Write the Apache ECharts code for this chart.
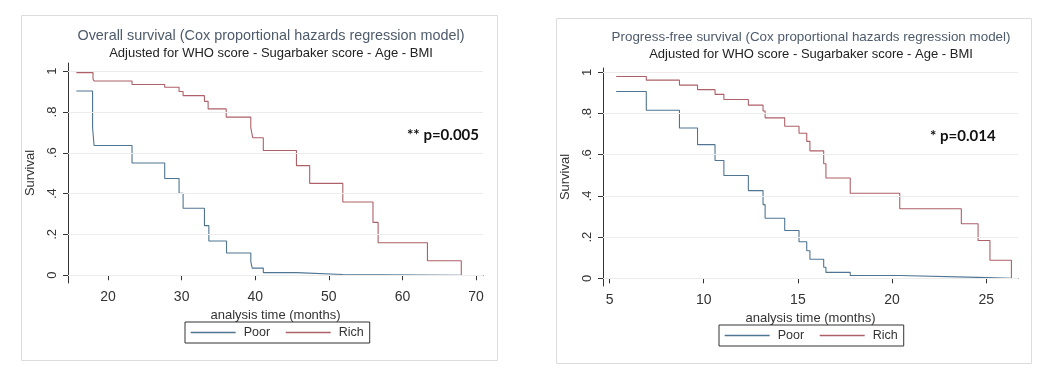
<!DOCTYPE html>
<html>
<head>
<meta charset="utf-8">
<script src="https://cdn.jsdelivr.net/npm/echarts@6/dist/echarts.min.js"></script>
<style>
html,body{margin:0;padding:0;background:#fff;}
#chart{width:1056px;height:378px;}
</style>
</head>
<body>
<div id="chart"></div>
<script>
// Overall survival (months)
const osPoorT = [15.7, 17.9, 18.1, 23.26, 27.7, 29.65, 30.2, 33.1, 33.7, 36.1, 39.4, 39.6, 41.1, 45.6, 51.9, 68.0];
const osPoorS = [0.903, 0.724, 0.636, 0.55, 0.474, 0.401, 0.328, 0.243, 0.168, 0.109, 0.065, 0.035, 0.013, 0.004, 0.0, 0.0];
const osRichT = [15.7, 17.96, 18.1, 23.26, 27.7, 29.65, 30.2, 33.1, 33.6, 36.06, 39.4, 39.66, 41.1, 45.6, 47.4, 51.9, 56.0, 56.7, 63.4, 68.0];
const osRichS = [0.993, 0.962, 0.952, 0.935, 0.921, 0.90, 0.88, 0.852, 0.815, 0.775, 0.722, 0.674, 0.611, 0.537, 0.45, 0.359, 0.259, 0.159, 0.071, 0.0];
// Progress-free survival (months)
const pfsPoorT = [5.35, 6.95, 8.71, 9.67, 10.6, 11.07, 12.37, 13.15, 13.26, 14.3, 15.06, 15.47, 15.64, 16.37, 16.49, 17.78, 20.41, 24.57, 26.34];
const pfsPoorS = [0.907, 0.816, 0.73, 0.649, 0.572, 0.499, 0.426, 0.358, 0.292, 0.232, 0.178, 0.134, 0.093, 0.054, 0.029, 0.014, 0.005, 0.0, 0.0];
const pfsRichT = [5.35, 6.95, 8.71, 9.67, 10.6, 11.07, 12.37, 13.15, 13.26, 14.3, 15.06, 15.47, 15.64, 16.37, 16.49, 17.78, 20.41, 23.68, 24.57, 25.2, 26.34];
const pfsRichS = [0.98, 0.962, 0.938, 0.916, 0.893, 0.868, 0.841, 0.812, 0.779, 0.738, 0.704, 0.665, 0.619, 0.556, 0.487, 0.413, 0.338, 0.265, 0.184, 0.088, 0.0];

const osXTicks = [20, 30, 40, 50, 60, 70];
const pfsXTicks = [5, 10, 15, 20, 25];
const yTicks = [0, 0.2, 0.4, 0.6, 0.8, 1];
const yTickLabels = ['0', '.2', '.4', '.6', '.8', '1'];
const groups = ['Poor', 'Rich'];

const FONT = 'Liberation Sans, Arial, sans-serif';
const AX = '#333';
const BLUE = '#4f7593';
const RED = '#ad6068';
const groupColors = [BLUE, RED];

const zip = (t, s) => t.map((v, i) => [v, s[i]]);
const yLabelFmt = v => {
  const i = yTicks.findIndex(t => Math.abs(t - v) < 1e-6);
  return i >= 0 ? yTickLabels[i] : '';
};

function xAxis(idx, min, max, ticks) {
  return {
    gridIndex: idx, type: 'value', min: min, max: max,
    name: 'analysis time (months)', nameLocation: 'middle', nameGap: 17,
    nameTextStyle: { fontSize: 13, color: AX, fontFamily: FONT },
    axisLine: { show: true, lineStyle: { color: AX, width: 1 } },
    axisTick: { show: true, length: 5, customValues: ticks, lineStyle: { color: AX } },
    axisLabel: { customValues: ticks, fontSize: 14, color: AX, margin: 7, fontFamily: FONT },
    splitLine: { show: false }
  };
}
function yAxis(idx, min, max) {
  return {
    gridIndex: idx, type: 'value', min: min, max: max,
    name: 'Survival', nameLocation: 'middle', nameGap: 31,
    nameTextStyle: { fontSize: 13, color: AX, fontFamily: FONT },
    axisLine: { show: true, lineStyle: { color: AX, width: 1 } },
    axisTick: { show: true, length: 5, customValues: yTicks, lineStyle: { color: AX } },
    axisLabel: { customValues: yTicks, rotate: 90, formatter: yLabelFmt, fontSize: 13, color: AX, margin: 9, fontFamily: FONT },
    splitLine: { show: false }
  };
}
function gridSeries(idx, data) {
  return {
    name: 'grid' + idx, type: 'line', xAxisIndex: idx, yAxisIndex: idx, data: data,
    symbol: 'none', silent: true, z: 1, lineStyle: { opacity: 0, width: 0 },
    markLine: {
      silent: true, symbol: 'none', label: { show: false },
      lineStyle: { color: '#ececec', type: 'solid', width: 1 },
      data: yTicks.map(v => ({ yAxis: v }))
    }
  };
}
function kmSeries(name, idx, data, color) {
  return {
    name: name, type: 'line', step: 'end', xAxisIndex: idx, yAxisIndex: idx,
    data: data, symbol: 'none', z: 3,
    lineStyle: { color: color, width: 1.1 }, itemStyle: { color: color }
  };
}
function legend(left, top) {
  return {
    left: left, top: top, orient: 'horizontal',
    data: groups.map((g, i) => ({ name: g, lineStyle: { color: groupColors[i], width: 1.3 } })),
    itemWidth: 45, itemHeight: 12, itemGap: 15, padding: [4, 6, 4, 5],
    borderColor: AX, borderWidth: 1, selectedMode: false,
    itemStyle: { opacity: 0 },
    textStyle: { fontSize: 12.5, color: AX, fontFamily: FONT, padding: [0, 0, 0, 3] }
  };
}
function title(text, cx, top, size) {
  return {
    text: text, subtext: 'Adjusted for WHO score - Sugarbaker score - Age - BMI',
    left: cx, top: top, textAlign: 'center', padding: 0, itemGap: 4,
    textStyle: { fontSize: size, fontWeight: 'normal', color: '#4d5b6b', fontFamily: FONT },
    subtextStyle: { fontSize: 13, color: '#222', fontFamily: FONT }
  };
}

const chart = echarts.init(document.getElementById('chart'), null, { renderer: 'canvas' });
chart.setOption({
  backgroundColor: '#fff',
  animation: false,
  title: [
    title('Overall survival (Cox proportional hazards regression model)', 271, 29, 14.4),
    title('Progress-free survival (Cox proportional hazards regression model)', 811, 31, 13.4)
  ],
  legend: [legend(185, 322), legend(719, 325)],
  grid: [
    { left: 68, top: 63, width: 415, height: 220, outerBoundsMode: 'none' },
    { left: 603, top: 68, width: 415, height: 218, outerBoundsMode: 'none' }
  ],
  xAxis: [xAxis(0, 14.56, 70.95, osXTicks), xAxis(1, 4.65, 26.69, pfsXTicks)],
  yAxis: [yAxis(0, -0.038, 1.04), yAxis(1, -0.037, 1.021)],
  series: [
    gridSeries(0, zip(osPoorT, osPoorS)),
    gridSeries(1, zip(pfsPoorT, pfsPoorS)),
    kmSeries('Poor', 0, zip(osPoorT, osPoorS), BLUE),
    kmSeries('Rich', 0, zip(osRichT, osRichS), RED),
    kmSeries('Poor', 1, zip(pfsPoorT, pfsPoorS), BLUE),
    kmSeries('Rich', 1, zip(pfsRichT, pfsRichS), RED)
  ],
  graphic: [
    { type: 'rect', z: -10, shape: { x: 21.5, y: 15.5, width: 476, height: 345 }, style: { fill: 'none', stroke: '#dcdcdc', lineWidth: 1 } },
    { type: 'rect', z: -10, shape: { x: 556.5, y: 18.5, width: 475, height: 345 }, style: { fill: 'none', stroke: '#dcdcdc', lineWidth: 1 } },
    { type: 'text', x: 407, y: 135, style: { text: '** p=0.005', font: 'bold 15px Lato, Open Sans, sans-serif', fill: '#111', verticalAlign: 'middle' } },
    { type: 'text', x: 930, y: 136, style: { text: '* p=0.014', font: 'bold 15px Lato, Open Sans, sans-serif', fill: '#111', verticalAlign: 'middle' } }
  ]
});
</script>
</body>
</html>
